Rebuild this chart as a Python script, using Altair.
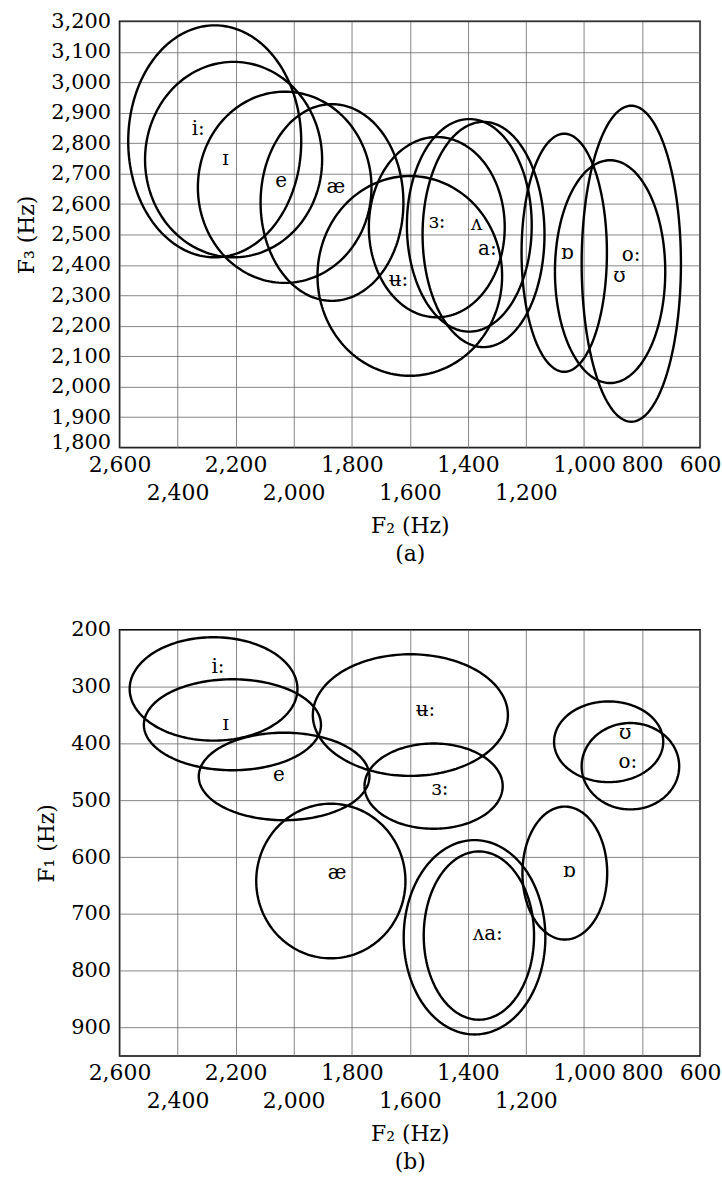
import altair as alt
import numpy as np
import pandas as pd

# ---------------- Panel (a): F3 against F2 ----------------
a_vowel = ["iː", "ɪ", "e", "æ", "ʉː", "ɜː", "ʌ", "aː", "ɒ", "ʊ", "oː"]
a_f2_center = [2272, 2207, 2031, 1868, 1600, 1507, 1395, 1346, 1068, 910, 837]
a_f3_center = [2806, 2746, 2655, 2605, 2364, 2524, 2530, 2500, 2440, 2378, 2404]
a_f2_half = [298, 305, 299, 246, 318, 234, 215, 210, 147, 190, 171]
a_f3_half = [381, 321, 314, 323, 328, 296, 349, 370, 391, 366, 519]

a_label_text = ["i:", "ɪ", "e", "æ", "ʉ:", "ɜ:", "ʌ", "a:", "ɒ", "o:", "ʊ"]
a_label_f2 = [2329, 2235, 2043, 1855, 1639, 1506, 1370, 1333, 1058, 838, 878]
a_label_f3 = [2845, 2748, 2677, 2655, 2350, 2540, 2534, 2453, 2438, 2432, 2362]

# ---------------- Panel (b): F1 against F2 ----------------
b_vowel = ["iː", "ɪ", "e", "æ", "ʉː", "ɜː", "ʌ", "aː", "ɒ", "ʊ", "oː"]
b_f2_center = [2276, 2211, 2033, 1872, 1598, 1518, 1377, 1362, 1066, 915, 840]
b_f1_center = [304, 367, 458, 642, 350, 475, 741, 738, 628, 397, 440]
b_f2_half = [289, 305, 294, 257, 336, 238, 244, 190, 146, 188, 168]
b_f1_half = [91, 80, 77, 136, 107, 75, 171, 148, 117, 71, 76]

b_label_text = ["i:", "ɪ", "e", "æ", "ʉ:", "ɜ:", "ʌa:", "ɒ", "ʊ", "o:"]
b_label_f2 = [2261, 2234, 2051, 1850, 1546, 1496, 1331, 1051, 858, 849]
b_label_f1 = [265, 365, 456, 628, 341, 480, 735, 625, 382, 432]

# tick values
f2_ticks = [2600, 2400, 2200, 2000, 1800, 1600, 1400, 1200, 1000, 800, 600]
f2_second_row = [2400, 2000, 1600, 1200]
f3_ticks = list(range(1800, 3201, 100))
f1_ticks = list(range(200, 901, 100))

FONT = "DejaVu Serif"


def outline(names, cx, cy, rx, ry):
    t = np.linspace(0, 2 * np.pi, 181)
    rows = []
    for n, x0, y0, a, b in zip(names, cx, cy, rx, ry):
        for i, tt in enumerate(t):
            rows.append({"v": n, "i": i, "x": x0 + a * np.cos(tt), "y": y0 + b * np.sin(tt)})
    return pd.DataFrame(rows)


row2 = "[" + ",".join(str(v) for v in f2_second_row) + "]"
x_label_expr = f"indexof({row2}, datum.value) >= 0 ? ['', datum.label] : datum.label"


def x_axis(caption):
    return alt.Axis(
        values=f2_ticks, format=",d", labelExpr=x_label_expr,
        labelOverlap=False, labelFlush=False, labelBound=False,
        labelPadding=7, labelLineHeight=28, labelBaseline="top",
        ticks=False, domain=False, grid=True,
        title=["F₂ (Hz)", caption], titleLineHeight=28, titlePadding=12,
    )


def y_axis(vals, title, low):
    return alt.Axis(
        values=vals, format=",d", labelOverlap=False, labelFlush=False,
        labelPadding=9, labelFontSize=21,
        labelOffset={"condition": {"test": f"datum.value == {low}", "value": -5}, "value": 0},
        ticks=False, domain=False, grid=True,
        title=title, titlePadding=12,
    )


W, H = 583, 428
xscale = alt.Scale(domain=[600, 2600], reverse=True, nice=False, zero=False)

# panel (a)
a_df = outline(a_vowel, a_f2_center, a_f3_center, a_f2_half, a_f3_half)
a_lab = pd.DataFrame({"t": a_label_text, "x": a_label_f2, "y": a_label_f3})
ya_scale = alt.Scale(domain=[1800, 3200], nice=False, zero=False)
ax_a_x = x_axis("(a)")
ax_a_y = y_axis(f3_ticks, "F₃ (Hz)", 1800)

a_lines = alt.Chart(a_df).mark_line(color="black", strokeWidth=2.4).encode(
    x=alt.X("x:Q", scale=xscale, axis=ax_a_x),
    y=alt.Y("y:Q", scale=ya_scale, axis=ax_a_y),
    detail="v:N",
    order="i:Q",
)
a_text = alt.Chart(a_lab).mark_text(font=FONT, fontSize=20, color="black").encode(
    x=alt.X("x:Q", scale=xscale, axis=ax_a_x),
    y=alt.Y("y:Q", scale=ya_scale, axis=ax_a_y),
    text="t:N",
)
panel_a = alt.layer(a_lines, a_text).properties(width=W, height=H)

# panel (b)
b_df = outline(b_vowel, b_f2_center, b_f1_center, b_f2_half, b_f1_half)
b_lab = pd.DataFrame({"t": b_label_text, "x": b_label_f2, "y": b_label_f1})
yb_scale = alt.Scale(domain=[200, 950], reverse=True, nice=False, zero=False)
ax_b_x = x_axis("(b)")
ax_b_y = y_axis(f1_ticks, "F₁ (Hz)", -1)

b_lines = alt.Chart(b_df).mark_line(color="black", strokeWidth=2.4).encode(
    x=alt.X("x:Q", scale=xscale, axis=ax_b_x),
    y=alt.Y("y:Q", scale=yb_scale, axis=ax_b_y),
    detail="v:N",
    order="i:Q",
)
b_text = alt.Chart(b_lab).mark_text(font=FONT, fontSize=20, color="black").encode(
    x=alt.X("x:Q", scale=xscale, axis=ax_b_x),
    y=alt.Y("y:Q", scale=yb_scale, axis=ax_b_y),
    text="t:N",
)
panel_b = alt.layer(b_lines, b_text).properties(width=W, height=H)

chart = (
    alt.vconcat(panel_a, panel_b, spacing=53)
    .properties(padding={"left": 15, "top": 7, "right": 0, "bottom": 5}, background="white")
    .configure_view(stroke="black", strokeWidth=1.5)
    .configure_axis(
        labelFont=FONT, labelFontSize=22, labelColor="black",
        titleFont=FONT, titleFontSize=22, titleFontWeight="normal", titleColor="black",
        gridColor="#666666", gridWidth=0.8,
    )
)

chart.save("out.html", embed_options={"renderer": "svg", "actions": False})
